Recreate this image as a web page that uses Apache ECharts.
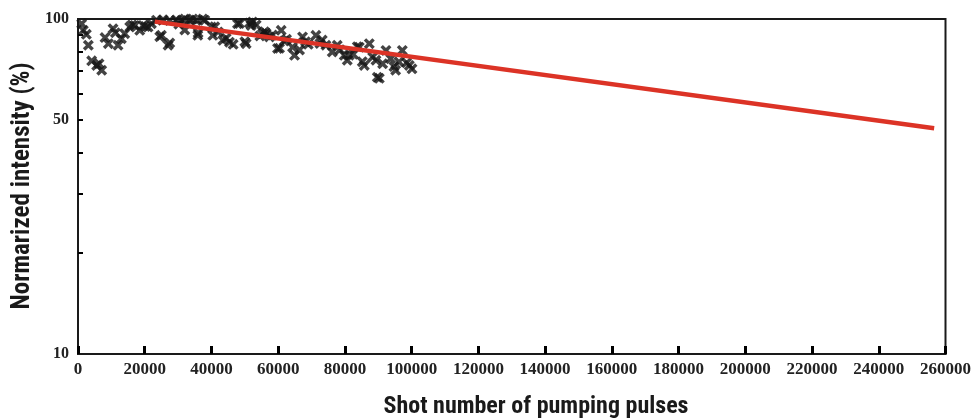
<!DOCTYPE html>
<html>
<head>
<meta charset="utf-8">
<script src="https://cdn.jsdelivr.net/npm/echarts@6/dist/echarts.min.js"></script>
<style>
html,body{margin:0;padding:0;background:#fff;}
#c{width:974px;height:418px;}
</style>
</head>
<body>
<div id="c"></div>
<script>
// Measured points: shot number and normalized intensity (%)
const shotX = [
  1100, 1600, 3100, 4100, 5600, 7100, 8100, 9100, 10500, 12000,
  13000, 14000, 15500, 17000, 18500, 19500, 21000, 22000, 24500, 25000,
  27000, 27500, 23500, 25500, 27500, 29500, 31000, 32000, 33500, 34400,
  35500, 37400, 38000, 32000, 35900, 36000, 40000, 40400, 41000, 43400,
  44400, 45400, 47800, 48400, 50000, 50400, 51400, 51900, 52300, 53400,
  55300, 55900, 56400, 57400, 58300, 59800, 60400, 60900, 62500, 64300,
  64900, 66400, 67300, 69000, 71300, 72500, 74300, 76200, 77700, 79800,
  80700, 81300, 83700, 84300, 85200, 85800, 87300, 89300, 89700, 90300,
  92300, 93700, 94700, 95200, 97200, 98500, 99300, 100100,
  2500, 6300, 11200, 16200, 20200, 30200, 42000, 46500, 54500, 61800,
  68200, 73200, 78500, 82500, 88300, 91300, 96200
];
const intensity = [
  96.8, 92.5, 83.5, 75.0, 72.7, 70.3, 88.0, 84.4, 93.5, 83.5,
  87.3, 90.4, 94.6, 95.7, 92.5, 95.7, 94.6, 96.8, 88.5, 89.4,
  83.5, 84.8, 99.2, 99.5, 99.0, 99.4, 99.0, 100, 99.3, 100,
  99.0, 100, 99.2, 92.7, 89.4, 90.8, 94.6, 89.4, 94.8, 86.4,
  87.6, 85.3, 96.8, 97.0, 85.5, 84.4, 97.3, 95.7, 98.0, 96.0,
  90.4, 91.6, 90.6, 88.4, 89.6, 81.7, 81.8, 92.5, 87.0, 82.4,
  77.9, 80.8, 88.4, 84.0, 89.4, 84.5, 83.5, 79.7, 83.5, 77.9,
  75.3, 78.0, 82.7, 82.4, 74.6, 72.7, 84.4, 75.3, 67.0, 66.5,
  80.6, 76.1, 72.1, 70.3, 80.6, 74.0, 72.7, 71.0,
  90.0, 73.5, 91.0, 96.0, 95.0, 96.5, 91.5, 84.0, 89.0, 86.0,
  85.5, 86.5, 81.0, 78.5, 77.0, 73.5, 74.5
];
// Fitted decay line endpoints
const fitX = [23000, 256600];
const fitY = [98.2, 47.2];

const xTickLabels = [0, 20000, 40000, 60000, 80000, 100000, 120000, 140000, 160000, 180000, 200000, 220000, 240000, 260000];
const yLabelValues = [10, 50, 100];
const yTickValues = [20, 30, 40, 50, 60, 70, 80, 90];

const scatterData = shotX.map((x, i) => [x, intensity[i]]);
const fitData = fitX.map((x, i) => [x, fitY[i]]);

const crossPath = 'path://M0,2.2L2.2,0L5,2.8L7.8,0L10,2.2L7.2,5L10,7.8L7.8,10L5,7.2L2.2,10L0,7.8L2.8,5Z';
const serif = '"Liberation Serif","DejaVu Serif",serif';
const narrow = '"Liberation Sans Narrow","Roboto Condensed","Liberation Sans",Roboto,sans-serif';

const chart = echarts.init(document.getElementById('c'), null, {renderer: 'canvas'});
chart.setOption({
  backgroundColor: '#fff',
  animation: false,
  grid: {left: 78, right: 26, top: 19, bottom: 64, show: true, borderColor: '#1a1a1a', borderWidth: 2, backgroundColor: 'transparent'},
  xAxis: [{
    type: 'value', min: 0, max: 260000, interval: 20000,
    axisLine: {show: true, lineStyle: {color: '#1a1a1a', width: 2}},
    axisTick: {show: true, inside: true, length: 8, lineStyle: {color: '#000', width: 3}},
    axisLabel: {
      color: '#222', fontFamily: serif, fontWeight: 'bold', fontSize: 17, margin: 7,
      showMinLabel: true, showMaxLabel: true,
      formatter: v => String(v)
    },
    splitLine: {show: false}
  }],
  yAxis: [{
    type: 'log', logBase: 10, min: 10, max: 100,
    axisLine: {show: true, lineStyle: {color: '#1a1a1a', width: 2}},
    axisTick: {show: true, inside: true, length: 5, lineStyle: {color: '#000', width: 2}, customValues: yTickValues},
    axisLabel: {color: '#222', fontFamily: serif, fontWeight: 'bold', fontSize: 16, margin: 9, customValues: yLabelValues, formatter: v => String(Math.round(v))},
    splitLine: {show: false}
  }],
  series: [
    {
      type: 'scatter', data: scatterData, symbol: crossPath, symbolSize: 11,
      itemStyle: {color: '#151515'}, z: 3
    },
    {
      type: 'line', data: fitData, symbol: 'none',
      lineStyle: {color: '#dc3326', width: 4.5}, z: 4
    }
  ],
  graphic: [
    {type: 'text', x: 536, y: 395, style: {text: 'Shot number of pumping pulses', font: 'bold 24px ' + narrow, fill: '#1a1a1a', align: 'center', verticalAlign: 'top'}},
    {type: 'text', x: 10, y: 186, rotation: Math.PI / 2, style: {text: 'Normarized intensity (%)', font: 'bold 25px ' + narrow, fill: '#1a1a1a', align: 'center', verticalAlign: 'top'}}
  ]
});
</script>
</body>
</html>
